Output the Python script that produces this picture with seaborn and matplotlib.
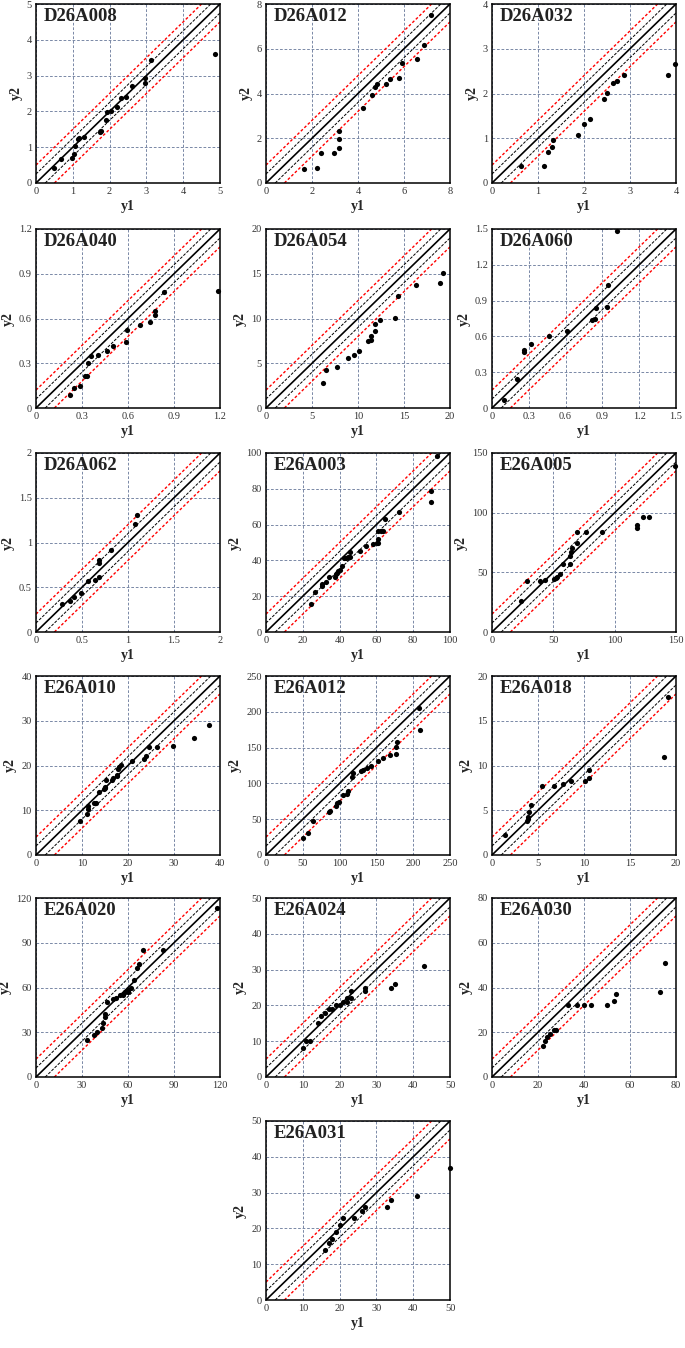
import numpy as np
import pandas as pd
import matplotlib
matplotlib.use("Agg")
import matplotlib.pyplot as plt
import seaborn as sns

# ---- data (y1 = x axis, y2 = y axis) ----
D26A008_X = [0.50, 0.69, 0.97, 1.04, 1.07, 1.15, 1.17, 1.31, 1.74, 1.76, 1.90, 1.94, 2.05, 2.19, 2.30, 2.44, 2.60, 2.95, 2.96, 3.13, 4.86]
D26A008_Y = [0.43, 0.67, 0.70, 0.81, 1.03, 1.24, 1.27, 1.29, 1.42, 1.44, 1.76, 1.97, 2.02, 2.12, 2.38, 2.41, 2.71, 2.79, 2.93, 3.44, 3.61]

D26A012_X = [1.67, 2.22, 2.40, 2.94, 3.16, 3.16, 3.16, 4.20, 4.63, 4.73, 4.83, 5.21, 5.38, 5.79, 5.91, 6.56, 6.87, 7.19]
D26A012_Y = [0.63, 0.69, 1.32, 1.35, 1.57, 1.98, 2.31, 3.37, 3.93, 4.31, 4.42, 4.43, 4.67, 4.69, 5.36, 5.56, 6.16, 7.51]

D26A032_X = [0.62, 1.14, 1.22, 1.30, 1.33, 1.86, 1.99, 2.12, 2.44, 2.50, 2.62, 2.72, 2.87, 3.82, 3.98]
D26A032_Y = [0.38, 0.38, 0.70, 0.81, 0.96, 1.07, 1.31, 1.43, 1.87, 2.02, 2.23, 2.28, 2.42, 2.42, 2.65]

D26A040_X = [0.223, 0.245, 0.284, 0.319, 0.332, 0.336, 0.358, 0.404, 0.461, 0.502, 0.585, 0.594, 0.677, 0.742, 0.775, 0.779, 0.834, 1.19]
D26A040_Y = [0.089, 0.134, 0.150, 0.217, 0.217, 0.300, 0.349, 0.355, 0.385, 0.413, 0.445, 0.523, 0.556, 0.577, 0.621, 0.650, 0.778, 0.787]

D26A054_X = [6.2, 6.5, 7.7, 8.9, 9.6, 10.1, 11.1, 11.4, 11.4, 11.8, 11.8, 12.4, 14.0, 14.3, 16.3, 18.9, 19.2]
D26A054_Y = [2.84, 4.19, 4.56, 5.61, 5.94, 6.32, 7.44, 7.55, 8.0, 8.6, 9.38, 9.79, 10.06, 12.52, 13.79, 14.02, 15.1]

D26A060_X = [0.10, 0.205, 0.259, 0.262, 0.316, 0.464, 0.608, 0.813, 0.837, 0.851, 0.941, 0.949, 1.02]
D26A060_Y = [0.067, 0.243, 0.472, 0.483, 0.539, 0.603, 0.648, 0.740, 0.746, 0.835, 0.844, 1.031, 1.48]

D26A062_X = [0.28, 0.37, 0.41, 0.49, 0.56, 0.64, 0.68, 0.68, 0.68, 0.82, 1.08, 1.10]
D26A062_Y = [0.31, 0.35, 0.39, 0.44, 0.57, 0.585, 0.61, 0.77, 0.80, 0.92, 1.21, 1.31]

E26A003_X = [24.7, 26.9, 30.2, 30.5, 32.4, 34.2, 37.5, 37.8, 38.5, 39.3, 40.4, 41.1, 42.4, 43.6, 44.7, 45.8, 45.8,
             51.1, 54.2, 58.2, 60.5, 61.1, 61.1, 61.1, 62.5, 63.6, 64.5, 72.4, 89.6, 89.6, 93.1]
E26A003_Y = [15.4, 22.1, 25.9, 26.6, 28.1, 30.6, 30.8, 32.3, 33.0, 34.1, 34.9, 37.1, 41.1, 41.1, 41.7, 41.7, 44.5,
             45.0, 47.8, 49.2, 49.9, 49.9, 52.2, 56.7, 56.7, 56.7, 62.9, 67.2, 78.8, 72.8, 98.3]

E26A005_X = [23.7, 28.4, 39.3, 42.8, 50.2, 51.8, 53.2, 55.4, 58.1, 63.3, 63.9, 64.7, 65.5, 69.3, 69.6, 76.6, 89.9,
             118.4, 118.6, 123.5, 127.9, 149.5]
E26A005_Y = [25.7, 42.9, 42.9, 43.4, 44.3, 45.4, 46.2, 48.8, 56.7, 56.7, 63.7, 66.8, 70.2, 75.0, 83.7, 83.7, 84.0,
             89.7, 86.8, 96.4, 96.4, 139.3]

E26A010_X = [9.5, 11.1, 11.3, 11.3, 12.6, 13.1, 13.6, 14.7, 15.0, 15.1, 15.3, 16.5, 16.8, 17.5, 17.7, 17.8, 18.1,
             18.5, 20.9, 23.5, 24.0, 24.5, 26.2, 29.8, 34.3, 37.7]
E26A010_Y = [7.6, 9.2, 10.3, 10.9, 11.7, 11.7, 14.0, 14.7, 15.0, 15.3, 16.7, 16.7, 17.2, 17.6, 17.9, 19.2, 19.6,
             20.2, 21.1, 21.5, 22.1, 24.1, 24.1, 24.4, 26.1, 29.1]

E26A012_X = [50.0, 57.3, 64.5, 85.9, 86.4, 95.5, 96.8, 98.6, 104.5, 110.0, 110.9, 117.3, 118.2, 128.6, 132.3,
             136.8, 143.2, 152.7, 158.6, 169.1, 177.3, 177.3, 178.6, 208.2, 209.1]
E26A012_Y = [23.5, 30.5, 47.0, 60.6, 62.0, 68.1, 72.4, 73.8, 83.6, 85.5, 89.8, 109.0, 115.1, 117.5, 119.4,
             121.2, 124.5, 130.6, 135.8, 140.0, 140.5, 150.8, 157.4, 205.8, 173.9]

E26A018_X = [1.4, 3.8, 3.9, 3.9, 4.0, 4.2, 5.4, 6.7, 7.7, 8.6, 10.1, 10.5, 10.5, 18.7, 19.1]
E26A018_Y = [2.2, 3.8, 4.0, 4.3, 4.75, 5.6, 7.7, 7.7, 7.9, 8.3, 8.3, 8.6, 9.5, 11.0, 17.6]

E26A020_X = [33, 38, 40, 43, 44, 45, 45, 46, 50, 52, 55, 57, 58, 60, 60, 62, 64, 66, 67, 70, 83, 118]
E26A020_Y = [25, 28, 30, 33, 36, 42, 40, 50, 52, 53, 55, 55, 57, 57, 58, 60, 65, 73, 76, 85, 85, 113]

E26A024_X = [10, 11, 12, 14, 15, 16, 17, 18, 19, 20, 21, 22, 22, 23, 23, 27, 27, 34, 35, 43]
E26A024_Y = [8, 10, 10, 15, 17, 18, 19, 19, 20, 20, 21, 21, 22, 22, 24, 24, 25, 25, 26, 31]

E26A030_X = [22, 23, 24, 25, 27, 28, 33, 37, 40, 43, 50, 53, 54, 73, 75]
E26A030_Y = [14, 16, 18, 19, 21, 21, 32, 32, 32, 32, 32, 34, 37, 38, 51]

E26A031_X = [16, 17, 18, 19, 20, 21, 24, 26, 27, 33, 34, 41, 50]
E26A031_Y = [14, 16, 17, 19, 21, 23, 23, 25, 26, 26, 28, 29, 37]

NAMES = ["D26A008", "D26A012", "D26A032", "D26A040", "D26A054", "D26A060",
         "D26A062", "E26A003", "E26A005", "E26A010", "E26A012", "E26A018",
         "E26A020", "E26A024", "E26A030", "E26A031"]
AXIS_MAX = [5, 8, 4, 1.2, 20, 1.5, 2, 100, 150, 40, 250, 20, 120, 50, 80, 50]
TICK_STEP = [1, 2, 1, 0.3, 5, 0.3, 0.5, 20, 50, 10, 50, 5, 30, 10, 20, 10]
SERIES = [(D26A008_X, D26A008_Y), (D26A012_X, D26A012_Y), (D26A032_X, D26A032_Y),
          (D26A040_X, D26A040_Y), (D26A054_X, D26A054_Y), (D26A060_X, D26A060_Y),
          (D26A062_X, D26A062_Y), (E26A003_X, E26A003_Y), (E26A005_X, E26A005_Y),
          (E26A010_X, E26A010_Y), (E26A012_X, E26A012_Y), (E26A018_X, E26A018_Y),
          (E26A020_X, E26A020_Y), (E26A024_X, E26A024_Y), (E26A030_X, E26A030_Y),
          (E26A031_X, E26A031_Y)]

sns.set_style("white")
plt.rcParams["font.family"] = ["Liberation Serif", "DejaVu Serif"]

W, H = 685, 1348
fig = plt.figure(figsize=(W / 100, H / 100), dpi=100)

COL_LEFT = [36, 266, 492]
ROW_TOP = [4, 229, 453, 676, 898, 1121]
AX_W, AX_H = 184, 179
GRID_COLOR = "#7080a0"


def fmt(v):
    return f"{round(v, 3):g}"


for i, name in enumerate(NAMES):
    if i < 15:
        r, c = divmod(i, 3)
    else:
        r, c = 5, 1
    left, top = COL_LEFT[c], ROW_TOP[r]
    ax = fig.add_axes([left / W, 1 - (top + AX_H) / H, AX_W / W, AX_H / H])

    lim = AXIS_MAX[i]
    xs, ys = SERIES[i]
    df = pd.DataFrame({"y1": xs, "y2": ys})

    ticks = np.arange(0, lim + TICK_STEP[i] / 2, TICK_STEP[i])
    ax.set_xlim(0, lim)
    ax.set_ylim(0, lim)
    ax.set_xticks(ticks)
    ax.set_yticks(ticks)
    ax.set_xticklabels([fmt(t) for t in ticks])
    ax.set_yticklabels([fmt(t) for t in ticks])
    ax.grid(True, color=GRID_COLOR, linestyle=(0, (3, 2)), linewidth=0.65)
    ax.set_axisbelow(True)

    # 1:1 line with +/-5% and +/-10% bands
    ax.axline((0, 0), slope=1, color="black", linewidth=1.2, zorder=2)
    for d in (0.05 * lim, -0.05 * lim):
        ax.axline((0, d), slope=1, color="black", linewidth=0.7,
                  linestyle=(0, (3, 1.5)), zorder=2)
    for d in (0.10 * lim, -0.10 * lim):
        ax.axline((0, d), slope=1, color="red", linewidth=1.0,
                  linestyle=(0, (2, 1.5)), zorder=2)

    sns.scatterplot(data=df, x="y1", y="y2", ax=ax, color="black", s=14,
                    linewidth=0, zorder=3, clip_on=False)

    ax.text(0.04, 0.975, name, transform=ax.transAxes, ha="left", va="top",
            fontsize=13.5, fontweight="bold", color="#222222")

    ax.tick_params(axis="both", length=0, pad=3, labelsize=7.5, labelcolor="#333333")
    for s in ax.spines.values():
        s.set_color("black")
        s.set_linewidth(1.1)
    ax.set_xlabel("y1", fontsize=10, fontweight="bold", labelpad=3)
    ax.set_ylabel("y2", fontsize=10, fontweight="bold", labelpad=3)

fig.savefig("out.png", dpi=100)
